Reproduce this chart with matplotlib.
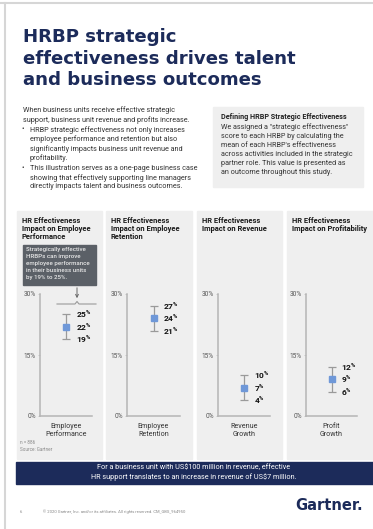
import matplotlib
matplotlib.use('Agg')
import matplotlib.pyplot as plt
from matplotlib.patches import Rectangle, FancyArrowPatch
from matplotlib.lines import Line2D

plt.rcParams['font.family'] = ['Roboto', 'DejaVu Sans']
plt.rcParams['mathtext.fontset'] = 'custom'
plt.rcParams['mathtext.rm'] = 'Roboto'
plt.rcParams['mathtext.bf'] = 'Roboto:bold'

# chart data
panel_titles = ['HR Effectiveness\nImpact on Employee\nPerformance',
                'HR Effectiveness\nImpact on Employee\nRetention',
                'HR Effectiveness\nImpact on Revenue',
                'HR Effectiveness\nImpact on Profitability']
categories = ['Employee\nPerformance', 'Employee\nRetention',
              'Revenue\nGrowth', 'Profit\nGrowth']
midpoints = [22, 24, 7, 9]
lows = [19, 21, 4, 6]
highs = [25, 27, 10, 12]
y_ticks = [0, 15, 30]
y_tick_labels = ['0%', '15%', '30%']

title_lines = ['HRBP strategic', 'effectiveness drives talent',
               'and business outcomes']
intro = 'When business units receive effective strategic\nsupport, business unit revenue and profits increase.'
bullets = ['HRBP strategic effectiveness not only increases\nemployee performance and retention but also\n'
           'significantly impacts business unit revenue and\nprofitability.',
           'This illustration serves as a one-page business case\nshowing that effectively supporting line managers\n'
           'directly impacts talent and business outcomes.']
box_title = 'Defining HRBP Strategic Effectiveness'
box_text = ('We assigned a "strategic effectiveness"\nscore to each HRBP by calculating the\n'
            "mean of each HRBP's effectiveness\nacross activities included in the strategic\n"
            'partner role. This value is presented as\nan outcome throughout this study.')
callout = ('Strategically effective\nHRBPs can improve\nemployee performance\n'
           'in their business units\nby 19% to 25%.')
banner = ('For a business unit with US$100 million in revenue, effective\n'
          'HR support translates to an increase in revenue of US$7 million.')

NAVY = '#1c2b5a'
PANEL = '#efefef'
BLUE = '#6f98d8'
TXT = '#333333'

W, H = 373, 529


def fx(x):
    return x / W


def fy(y):
    return 1 - y / H


fig = plt.figure(figsize=(W / 100, H / 100), dpi=100)

# page border
fig.add_artist(Line2D([0, 1], [fy(3), fy(3)], transform=fig.transFigure, color='#d6d6d6', lw=1.5))
fig.add_artist(Line2D([fx(5), fx(5)], [fy(3), fy(528)], transform=fig.transFigure, color='#d6d6d6', lw=1.5))

# title
for yb, line in zip([42, 64, 85], title_lines):
    fig.text(fx(23), fy(yb), line, fontsize=13.1, fontweight='bold', color=NAVY, va='baseline',
             family='DejaVu Sans')

# intro text
fig.text(fx(23), fy(106), intro, fontsize=5.2, color=TXT, va='top', linespacing=1.35)
for yt, b in zip([126, 165], bullets):
    fig.text(fx(22), fy(yt), '\u2022', fontsize=5.2, color=TXT, va='top')
    fig.text(fx(30), fy(yt), b, fontsize=5.2, color=TXT, va='top', linespacing=1.3)

# definition box
fig.add_artist(Rectangle((fx(213), fy(187)), fx(363) - fx(213), fy(107) - fy(187),
                         transform=fig.transFigure, color=PANEL, zorder=-5))
fig.text(fx(221), fy(117), box_title, fontsize=5.2, fontweight='bold', color='#222222', va='center')
fig.text(fx(221), fy(123), box_text, fontsize=5.2, color=TXT, va='top', linespacing=1.42)

# panel backgrounds
panel_x = [(17, 102), (106, 192), (197, 282), (287, 373)]
for (x0, x1), t in zip(panel_x, panel_titles):
    fig.add_artist(Rectangle((fx(x0), fy(459)), fx(x1) - fx(x0), fy(211) - fy(459),
                             transform=fig.transFigure, color=PANEL, zorder=-5))
    fig.text(fx(x0 + 5), fy(217), t, fontsize=5.4, fontweight='bold', color='#1a1a1a',
             va='top', linespacing=1.0)

# axes for each panel
axis_x = [(40, 92), (127, 180), (218, 270), (306, 357)]
y_top, y_bot = 294, 416
for i, (x0, x1) in enumerate(axis_x):
    ax = fig.add_axes([fx(x0), fy(y_bot), fx(x1) - fx(x0), fy(y_top) - fy(y_bot)])
    ax.set_facecolor('none')
    ax.errorbar([0], [midpoints[i]], yerr=[[midpoints[i] - lows[i]], [highs[i] - midpoints[i]]],
                fmt='s', color=BLUE, markersize=5, ecolor='#9a9a9a', elinewidth=0.9,
                capsize=2.6, capthick=0.9)
    for v in [highs[i], midpoints[i], lows[i]]:
        ax.annotate(r'$\mathbf{%d}^{\mathbf{\%%}}$' % v, xy=(0, v), xytext=(7, 0),
                    textcoords='offset points', va='center', ha='left', fontsize=6,
                    color='#111111')
    ax.set_xlim(-1, 1)
    ax.set_ylim(0, 30)
    ax.set_yticks(y_ticks)
    ax.set_yticklabels(y_tick_labels)
    ax.set_xticks([0])
    ax.set_xticklabels([categories[i]])
    ax.tick_params(axis='y', length=1.5, width=0.5, color='#bbbbbb', pad=1.5,
                   labelsize=4.7, labelcolor='#555555')
    ax.tick_params(axis='x', length=0, pad=5, labelsize=5.1, labelcolor=TXT)
    for s in ['top', 'right']:
        ax.spines[s].set_visible(False)
    for s in ['left', 'bottom']:
        ax.spines[s].set_color('#b5b5b5')
        ax.spines[s].set_linewidth(1.1)

# callout in first panel
fig.add_artist(Rectangle((fx(23), fy(285)), fx(96) - fx(23), fy(245) - fy(285),
                         transform=fig.transFigure, color='#5b6067', zorder=-4))
fig.text(fx(26), fy(247.5), callout, fontsize=4.4, fontweight='medium', color='#e8e8e8',
         va='top', linespacing=1.45)
fig.add_artist(FancyArrowPatch((fx(77), fy(285)), (fx(77), fy(301)), transform=fig.transFigure,
                               arrowstyle='->', mutation_scale=5, color='#666666', lw=0.7))
fig.add_artist(Line2D([fx(57), fx(75), fx(77), fx(79), fx(96)],
                      [fy(304), fy(304), fy(301.5), fy(304), fy(304)],
                      transform=fig.transFigure, color='#9a9a9a', lw=0.8))

# notes
fig.text(fx(20), fy(440), 'n = 886\nSource: Gartner', fontsize=3.3, color='#888888', va='top',
         linespacing=1.5)

# banner
fig.add_artist(Rectangle((fx(16), fy(484)), fx(373) - fx(16), fy(462) - fy(484),
                         transform=fig.transFigure, color=NAVY, zorder=-5))
fig.text(fx(194), fy(473), banner, fontsize=5.2, color='white', ha='center', va='center',
         linespacing=1.35)

# footer
fig.text(fx(20), fy(512), '6', fontsize=3, color='#888888', va='center')
fig.text(fx(43), fy(512), '\u00a9 2020 Gartner, Inc. and/or its affiliates. All rights reserved. CM_GBS_964950',
         fontsize=3, color='#888888', va='center')
fig.text(fx(363), fy(506), 'Gartner.', fontsize=10.5, fontweight='bold', color=NAVY,
         ha='right', va='center', family='DejaVu Sans')

fig.savefig('out.png', dpi=100)
